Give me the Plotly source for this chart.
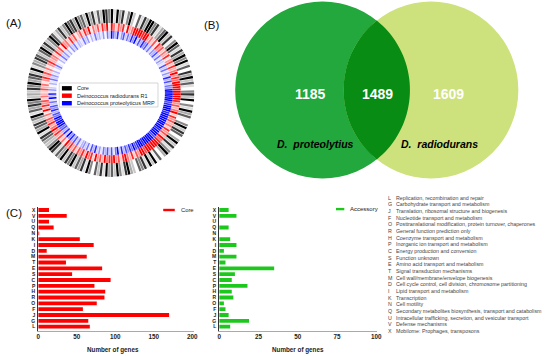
import math
import plotly.graph_objects as go

W, H = 550, 356

# ---------------- Panel A: circular genome rings (intensity 0-9 per 2° sector, clockwise from top)
core_ring = "".join([
    "939582694073859", "968357948269738", "596937085947306", "849063957206948",
    "705948369507294", "938670459836947", "593847069385749", "684957389645783",
    "957846937586945", "486957849365874", "795846973584697", "859674958374986"])
radiodurans_ring = "".join([
    "963758294699998", "994637285736482", "573846958699999", "999857469385746",
    "385749689999997", "995738469837598", "869475938694857", "374859263748596",
    "485736294857364", "374625847362584", "563847295638472", "473859264738592"])
proteolyticus_ring = "".join([
    "964825736485937", "485736254736253", "273625384736599", "999978999899999",
    "999899979999989", "987968574839627", "374625384726354", "263748593847699",
    "989674857362948", "253142635241362", "142635241536243", "263514263425163"])
ring_names = ["Core", "Deinococcus radiodurans R1", "Deinococcus proteolyticus MRP"]

# ---------------- Panel B: Venn counts
venn_counts = [1185, 1489, 1609]
venn_species = ["D.  proteolytius", "D.  radiodurans"]

# ---------------- Panel C: COG categories
cog_codes = ["L", "G", "J", "F", "O", "R", "H", "P", "C", "S", "E",
             "T", "M", "D", "I", "K", "N", "Q", "U", "V", "X"]
core_counts = [67, 65, 170, 58, 76, 86, 87, 73, 94, 44, 83,
               36, 63, 11, 72, 54, 1, 20, 14, 37, 14]
accessory_counts = [7, 19, 6, 4, 3, 9, 8, 18, 8, 10, 35,
                    4, 11, 3, 11, 7, 0, 6, 0, 11, 6]
cog_desc = [
    "Replication, recombination and repair",
    "Carbohydrate transport and metabolism",
    "Translation, ribosomal structure and biogenesis",
    "Nucleotide transport and metabolism",
    "Posttranslational modification, protein turnover, chaperones",
    "General function prediction only",
    "Coenzyme transport and metabolism",
    "Inorganic ion transport and metabolism",
    "Energy production and conversion",
    "Function unknown",
    "Amino acid transport and metabolism",
    "Signal transduction mechanisms",
    "Cell wall/membrane/envelope biogenesis",
    "Cell cycle control, cell division, chromosome partitioning",
    "Lipid transport and metabolism",
    "Transcription",
    "Cell motility",
    "Secondary metabolites biosynthesis, transport and catabolism",
    "Intracellular trafficking, secretion, and vesicular transport",
    "Defense mechanisms",
    "Mobilome: Prophages, transposons",
]

FONT = "Liberation Sans, Arial, sans-serif"


def px(x):
    return x / W


def py(y):
    return 1 - y / H


fig = go.Figure()

# ---- rings
ring_specs = [
    (core_ring, (0, 0, 0), 71, 14, 1.9),
    (radiodurans_ring, (255, 0, 0), 63, 8, 1.5),
    (proteolyticus_ring, (0, 0, 255), 55, 8, 1.5),
]
for (pattern, rgb, base, thick, gam), name in zip(ring_specs, ring_names):
    vals = [int(c) for c in pattern]
    n = len(vals)
    step = 360.0 / n
    cols = ["rgba(%d,%d,%d,%.3f)" % (rgb[0], rgb[1], rgb[2], (v / 9.0) ** gam) for v in vals]
    fig.add_trace(go.Barpolar(
        theta=[(i + 0.5) * step for i in range(n)], r=[thick] * n, base=base,
        width=step * 0.8, marker=dict(color=cols, line=dict(width=0)),
        name=name, showlegend=False, hoverinfo="skip", subplot="polar"))

# ---- bars
fig.add_trace(go.Bar(x=core_counts, y=cog_codes, orientation="h", name="Core",
                     marker=dict(color="#ff0000", line=dict(width=0)), width=0.66,
                     xaxis="x", yaxis="y", showlegend=False))
fig.add_trace(go.Bar(x=accessory_counts, y=cog_codes, orientation="h", name="Accessory",
                     marker=dict(color="#1cc81c", line=dict(width=0)), width=0.66,
                     xaxis="x2", yaxis="y2", showlegend=False))

shapes = []
annotations = []

# ---- Venn circles
cL, cR, rv, cy = 324.7, 434.5, 88.5, 90.0
shapes.append(dict(type="circle", xref="paper", yref="paper", x0=px(cL - rv), x1=px(cL + rv),
                   y0=py(cy + rv), y1=py(cy - rv), fillcolor="#22a83c", line=dict(width=0), layer="below"))
shapes.append(dict(type="circle", xref="paper", yref="paper", x0=px(cR - rv), x1=px(cR + rv),
                   y0=py(cy + rv), y1=py(cy - rv), fillcolor="#cde27c", line=dict(width=0), layer="below"))
d = cR - cL
alpha = math.acos((d / 2) / rv)
pts = []
for k in range(41):
    t = -alpha + 2 * alpha * k / 40
    pts.append((cL + rv * math.cos(t), cy + rv * math.sin(t)))
for k in range(41):
    t = math.pi + alpha - 2 * alpha * k / 40
    pts.append((cR + rv * math.cos(t), cy + rv * math.sin(t)))
path = "M " + " L ".join("%.5f,%.5f" % (px(a), py(b)) for a, b in pts) + " Z"
shapes.append(dict(type="path", xref="paper", yref="paper", path=path,
                   fillcolor="#088c14", line=dict(width=0), layer="below"))

for val, xx in zip(venn_counts, [312, 380, 452]):
    annotations.append(dict(text="<b>%d</b>" % val, x=px(xx), y=py(94), xanchor="center", yanchor="middle",
                            font=dict(family=FONT, size=14, color="white")))
for lab, xx in zip(venn_species, [318, 443]):
    annotations.append(dict(text="<b><i>%s</i></b>" % lab, x=px(xx), y=py(144), xanchor="center",
                            yanchor="middle", font=dict(family=FONT, size=10.5, color="black")))

# ---- Legend panel A
shapes.append(dict(type="rect", xref="paper", yref="paper", x0=px(58), x1=px(158), y0=py(107), y1=py(83),
                   fillcolor="white", line=dict(color="#bbbbbb", width=0.6)))
for name, col, yy in zip(ring_names, ["#000000", "#ff0000", "#0000ff"], [88.3, 95.7, 103.2]):
    shapes.append(dict(type="rect", xref="paper", yref="paper", x0=px(60.7), x1=px(70.7),
                       y0=py(yy + 2.2), y1=py(yy - 2.2), fillcolor=col, line=dict(width=0)))
    annotations.append(dict(text=name, x=px(74.5), y=py(yy), xanchor="left", yanchor="middle",
                            font=dict(family=FONT, size=5.5, color="#222")))

# ---- bar legends
shapes.append(dict(type="rect", xref="paper", yref="paper", x0=px(163.3), x1=px(175),
                   y0=py(211.2), y1=py(208.8), fillcolor="#ff0000", line=dict(width=0)))
annotations.append(dict(text="Core", x=px(180.5), y=py(210), xanchor="left", yanchor="middle",
                        font=dict(family=FONT, size=5.8, color="#222")))
shapes.append(dict(type="rect", xref="paper", yref="paper", x0=px(338.3), x1=px(346.7),
                   y0=py(210.3), y1=py(207.9), fillcolor="#1cc81c", line=dict(width=0)))
annotations.append(dict(text="Accessory", x=px(351.5), y=py(209), xanchor="left", yanchor="middle",
                        font=dict(family=FONT, size=6, color="#222")))

# ---- COG description list
for i, (code, desc) in enumerate(zip(cog_codes, cog_desc)):
    yy = 197.7 + i * 6.665
    annotations.append(dict(text=code, x=px(389.5), y=py(yy), xanchor="left", yanchor="middle",
                            font=dict(family=FONT, size=5.3, color="#444")))
    annotations.append(dict(text=desc, x=px(397.8), y=py(yy), xanchor="left", yanchor="middle",
                            font=dict(family=FONT, size=5.3, color="#444")))

# ---- axis titles and panel labels
for xx in [112, 300]:
    annotations.append(dict(text="<b>Number of genes</b>", x=px(xx), y=py(350), xanchor="center",
                            yanchor="middle", font=dict(family=FONT, size=6.3, color="#222")))
for lab, xx, yy in [("(A)", 3, 23), ("(B)", 204, 25), ("(C)", 3, 213)]:
    annotations.append(dict(text=lab, x=px(xx), y=py(yy), xanchor="left", yanchor="middle",
                            font=dict(family=FONT, size=11.5, color="#111")))

for a in annotations:
    a.update(xref="paper", yref="paper", showarrow=False, borderpad=0)

ydom = [py(330.7), py(206.7)]
tickf = dict(family=FONT, size=6.3, color="#222", weight="bold")
catf = dict(family=FONT, size=5, color="#222", weight="bold")

fig.update_layout(
    width=W, height=H, autosize=False,
    margin=dict(l=0, r=0, t=0, b=0),
    paper_bgcolor="white", plot_bgcolor="rgba(0,0,0,0)",
    showlegend=False,
    polar=dict(domain=dict(x=[px(25), px(195)], y=[py(178), py(8)]),
               bgcolor="rgba(0,0,0,0)", bargap=0, barmode="overlay",
               radialaxis=dict(range=[0, 85], visible=False),
               angularaxis=dict(rotation=90, direction="clockwise", visible=False)),
    xaxis=dict(domain=[px(36.7), px(194)], range=[0, 201.7], anchor="y", showgrid=False, zeroline=False,
               showline=True, linecolor="#aaaaaa", linewidth=1, tickvals=[0, 50, 100, 150, 200],
               ticks="", tickfont=tickf),
    yaxis=dict(domain=ydom, range=[-0.69, 20.57], type="category", categoryorder="array",
               categoryarray=cog_codes, anchor="x", showgrid=False, zeroline=False, showline=True,
               linecolor="#333333", linewidth=1, ticks="", tickfont=catf, ticklabelstandoff=1,
               tickmode="array", tickvals=cog_codes, ticktext=cog_codes),
    xaxis2=dict(domain=[px(220), px(380)], range=[0, 100.6], anchor="y2", showgrid=False, zeroline=False,
                showline=True, linecolor="#aaaaaa", linewidth=1, tickvals=[0, 25, 50, 75, 100],
                ticks="", tickfont=tickf),
    yaxis2=dict(domain=ydom, range=[-0.69, 20.57], type="category", categoryorder="array",
                categoryarray=cog_codes, anchor="x2", showgrid=False, zeroline=False, showline=True,
                linecolor="#333333", linewidth=1, ticks="", tickfont=catf, ticklabelstandoff=1,
                tickmode="array", tickvals=cog_codes, ticktext=cog_codes),
    shapes=shapes, annotations=annotations,
)

fig.write_html("out.html", config={"displayModeBar": False},
               post_script="document.body.style.margin='0';")
